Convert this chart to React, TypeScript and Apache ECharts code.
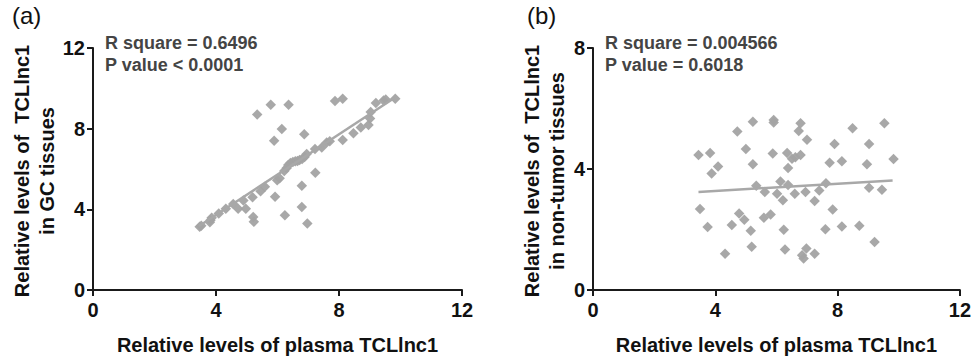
import React, { useEffect, useRef } from "react";
import * as echarts from "echarts";

// Panel (a): plasma TCLlnc1 vs GC tissue levels
const plasmaA = [3.47, 3.52, 3.8, 3.82, 3.86, 4.09, 4.32, 4.56, 4.72, 4.89, 4.97, 5.19, 5.21, 5.23, 5.34, 5.45, 5.59, 5.78, 5.89, 5.92, 5.99, 6.07, 6.14, 6.22, 6.24, 6.3, 6.35, 6.36, 6.42, 6.5, 6.58, 6.65, 6.72, 6.79, 6.79, 6.8, 6.87, 6.88, 6.95, 6.97, 7.23, 7.22, 7.44, 7.6, 7.7, 7.87, 8.12, 8.12, 8.47, 8.71, 8.96, 9.01, 9.03, 9.2, 9.45, 9.52, 9.83];
const tissueA = [3.14, 3.18, 3.36, 3.46, 3.58, 3.79, 4.03, 4.27, 4.03, 4.44, 4.03, 4.6, 3.62, 3.38, 8.7, 4.9, 5.12, 9.19, 7.4, 4.63, 5.44, 5.54, 7.98, 5.9, 3.71, 6.05, 6.2, 9.19, 6.3, 6.35, 6.38, 6.4, 6.45, 5.17, 4.11, 6.5, 7.72, 6.6, 6.75, 3.3, 5.82, 6.99, 7.07, 7.32, 7.37, 9.37, 9.48, 7.44, 7.77, 8.06, 8.18, 8.5, 8.83, 9.27, 9.4, 9.45, 9.48];
const fitA = [[3.45, 3.17], [9.8, 9.52]];

// Panel (b): plasma TCLlnc1 vs non-tumor tissue levels
const plasmaB = [3.45, 3.5, 3.75, 3.83, 3.88, 4.09, 4.32, 4.54, 4.72, 4.78, 4.95, 5.0, 5.16, 5.19, 5.23, 5.23, 5.34, 5.59, 5.62, 5.81, 5.88, 5.91, 5.91, 6.02, 6.13, 6.21, 6.24, 6.28, 6.35, 6.38, 6.38, 6.51, 6.6, 6.62, 6.73, 6.79, 6.79, 6.84, 6.89, 6.95, 6.98, 7.0, 7.25, 7.25, 7.4, 7.6, 7.62, 7.74, 7.84, 7.9, 8.14, 8.14, 8.49, 8.71, 8.96, 9.03, 9.03, 9.21, 9.45, 9.53, 9.83];
const tissueB = [4.46, 2.68, 2.08, 4.53, 3.85, 4.08, 1.2, 2.15, 5.24, 2.53, 2.32, 4.66, 1.96, 1.43, 4.16, 5.56, 3.45, 2.39, 3.24, 2.5, 4.51, 5.62, 5.54, 3.18, 3.59, 2.97, 1.99, 1.34, 4.53, 4.03, 3.47, 4.34, 3.18, 4.39, 5.26, 5.51, 4.46, 1.15, 1.04, 3.24, 1.37, 4.97, 2.94, 1.2, 3.29, 2.01, 3.53, 4.21, 2.66, 4.83, 2.1, 4.26, 5.35, 2.12, 4.16, 4.83, 3.38, 1.59, 3.31, 5.51, 4.33];
const fitB = [[3.45, 3.24], [9.8, 3.62]];

const xTicks = [0, 4, 8, 12];
const yTicksA = [0, 4, 8, 12];
const yTicksB = [0, 4, 8];

const FONT = "Liberation Sans, Arial, sans-serif";
const POINT = "#a3a3a3";
const LINE = "#a8a8a8";
const AXIS = "#1a1a1a";

function pairs(xs: number[], ys: number[]) {
  return xs.map((x, i) => [x, ys[i]]);
}

function axisCommon(max: number, margin: number) {
  return {
    type: "value" as const,
    min: 0,
    max,
    interval: 4,
    splitLine: { show: false },
    axisLine: { show: true, onZero: false, lineStyle: { color: AXIS, width: 2 } },
    axisTick: { show: true, length: 6, lineStyle: { color: AXIS, width: 2 } },
    axisLabel: { color: "#111", fontFamily: FONT, fontWeight: "bold" as const, fontSize: 20, margin },
  };
}

const xName = {
  name: "Relative levels of plasma TCLlnc1",
  nameLocation: "middle",
  nameGap: 45,
  nameTextStyle: { color: "#111", fontFamily: FONT, fontWeight: "bold", fontSize: 20 },
};

export default function App() {
  const ref = useRef<HTMLDivElement>(null);
  useEffect(() => {
    if (!ref.current) return;
    const chart = echarts.init(ref.current, undefined, { renderer: "svg" });
    const xMax = xTicks[xTicks.length - 1];
    const option = {
      animation: false,
      backgroundColor: "#ffffff",
      grid: [
        { left: 93, top: 48, width: 369, height: 246 },
        { left: 593, top: 48, width: 369, height: 247 },
      ],
      xAxis: [
        { ...axisCommon(xMax, 10), gridIndex: 0, ...xName },
        { ...axisCommon(xMax, 10), gridIndex: 1, ...xName },
      ],
      yAxis: [
        { ...axisCommon(yTicksA[yTicksA.length - 1], 8), gridIndex: 0 },
        { ...axisCommon(yTicksB[yTicksB.length - 1], 8), gridIndex: 1 },
      ],
      series: [
        { type: "scatter", xAxisIndex: 0, yAxisIndex: 0, symbol: "diamond", symbolSize: 10.5,
          itemStyle: { color: POINT, opacity: 0.95 }, data: pairs(plasmaA, tissueA), z: 2 },
        { type: "line", xAxisIndex: 0, yAxisIndex: 0, showSymbol: false, symbol: "none",
          lineStyle: { color: LINE, width: 2.5 }, data: fitA, z: 3 },
        { type: "scatter", xAxisIndex: 1, yAxisIndex: 1, symbol: "diamond", symbolSize: 10.5,
          itemStyle: { color: POINT, opacity: 0.95 }, data: pairs(plasmaB, tissueB), z: 2 },
        { type: "line", xAxisIndex: 1, yAxisIndex: 1, showSymbol: false, symbol: "none",
          lineStyle: { color: LINE, width: 2.5 }, data: fitB, z: 3 },
      ],
      graphic: [
        { type: "text", x: 12, y: 3, style: { text: "(a)", font: `24px ${FONT}`, fill: "#111" } },
        { type: "text", x: 527, y: 3, style: { text: "(b)", font: `24px ${FONT}`, fill: "#111" } },
        { type: "text", x: 105, y: 32, style: { text: "R square = 0.6496\nP value < 0.0001", font: `bold 18px ${FONT}`, fill: "#444", lineHeight: 22 } },
        { type: "text", x: 605, y: 32, style: { text: "R square = 0.004566\nP value = 0.6018", font: `bold 18px ${FONT}`, fill: "#444", lineHeight: 22 } },
        { type: "text", x: 34, y: 171, rotation: Math.PI / 2,
          style: { text: "Relative levels of  TCLlnc1\nin GC tissues", font: `bold 20px ${FONT}`, fill: "#111", align: "center", verticalAlign: "middle", lineHeight: 25 } },
        { type: "text", x: 544, y: 171, rotation: Math.PI / 2,
          style: { text: "Relative levels of  TCLlnc1\nin non-tumor tissues", font: `bold 20px ${FONT}`, fill: "#111", align: "center", verticalAlign: "middle", lineHeight: 25 } },
      ],
    };
    chart.setOption(option as any);
    return () => chart.dispose();
  }, []);
  return <div ref={ref} style={{ width: 974, height: 360, position: "absolute", left: 0, top: 0, background: "#fff" }} />;
}
